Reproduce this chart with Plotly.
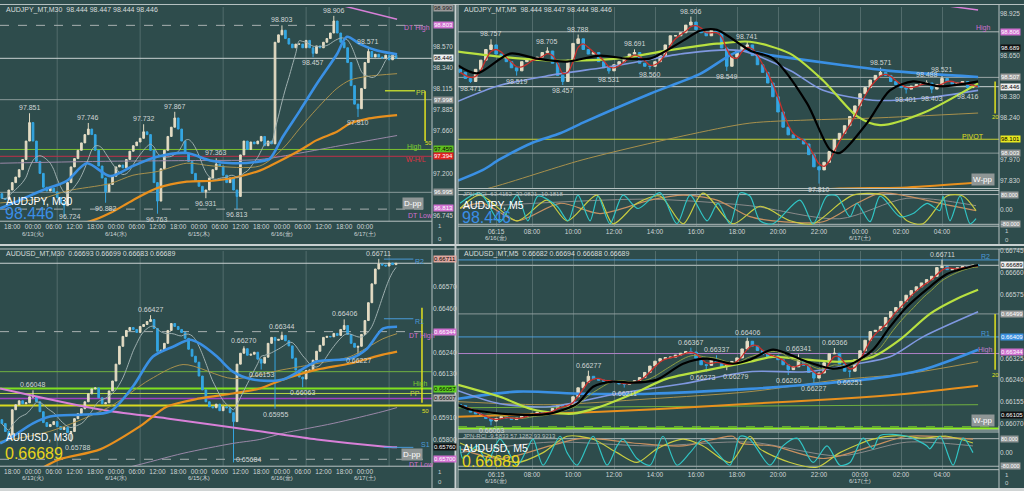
import plotly.graph_objects as go
import pandas as pd

W, H = 1024, 491
BG = '#2e4c4c'
UP = '#e4dcc4'
DN = '#34a6e2'
TXT = '#d0d6d6'
FONT = 'Liberation Sans, Arial, sans-serif'

# ======================= DATA =======================
# ---- AUDJPY M30 (x = hours from 6/13 00:00, hourly bars) ----
jpy30_t0 = -9
jpy30_open0 = 96.98
jpy30_close = [96.93, 96.92, 97.02, 97.10, 97.16, 97.24, 97.35, 97.55, 97.75,
               97.55, 97.33, 97.20, 97.05, 97.01, 97.04, 97.00, 96.94, 96.88, 96.85,
               97.10, 97.27, 97.36, 97.45, 97.53, 97.62, 97.68, 97.62, 97.45, 97.28,
               97.15, 97.00, 97.08, 97.17, 97.27, 97.29, 97.26, 97.35, 97.44, 97.50,
               97.54, 97.58, 97.65, 97.62, 97.45, 97.10, 96.90, 97.25, 97.45, 97.60,
               97.70, 97.80, 97.68, 97.55, 97.42, 97.33, 97.20, 97.12, 97.06, 97.00,
               97.02, 97.15, 97.24, 97.30, 97.28, 97.18, 97.10, 97.15, 97.02, 96.95,
               97.40, 97.55, 97.46, 97.54, 97.52, 97.55, 97.60, 97.50, 97.55, 97.52,
               98.62, 98.70, 98.75, 98.66, 98.60, 98.56, 98.60, 98.60, 98.56, 98.64,
               98.56, 98.50, 98.58, 98.56, 98.62, 98.66, 98.72, 98.85, 98.72, 98.62,
               98.56, 98.40, 98.15, 97.95, 97.90, 98.12, 98.40, 98.52, 98.46, 98.49,
               98.46, 98.45, 98.48, 98.43, 98.48, 98.446]
jpy30_high_pts = {-1: 97.851, 16: 97.746, 32: 97.732, 41: 97.867, 53: 97.363,
                  72: 98.803, 87: 98.906, 97: 98.571}
jpy30_low_pts = {9: 96.724, 21: 96.882, 36: 96.763, 50: 96.931, 59: 96.813,
                 81: 98.457, 94: 97.810}
jpy30_label_nudge = {9: (6, 6)}
jpy30_blue_t = [-9.5, -3.8, 2.9, 9.8, 15.6, 22.3, 28.9, 35.9, 44.5, 51.2, 57.8, 65.6,
                68.5, 72.3, 77.2, 82.1, 87.9, 90.8, 94.6, 99.5, 105.3]
jpy30_blue_p = [96.82, 96.91, 97.02, 97.12, 97.31, 97.17, 97.28, 97.38, 97.42, 97.34,
                97.31, 97.33, 97.36, 97.60, 97.88, 98.17, 98.49, 98.68, 98.60, 98.53, 98.49]
jpy30_orange_t = [7.0, 16.5, 22.3, 28.9, 35.9, 44.5, 52.1, 57.8, 65.6, 68.5, 77.2,
                  82.1, 87.9, 91.7, 96.6, 105.3]
jpy30_orange_p = [96.61, 96.68, 96.77, 96.91, 97.04, 97.11, 97.12, 97.15, 97.23, 97.28,
                  97.45, 97.56, 97.65, 97.74, 97.79, 97.83]
jpy30_tan_t = [-9.5, 2.9, 9.8, 22.3, 28.9, 35.9, 44.5, 52.1, 65.6, 72.3, 77.2, 82.1,
               87.9, 91.7, 96.6, 105.3]
jpy30_tan_p = [96.88, 96.93, 97.01, 97.09, 97.18, 97.22, 97.31, 97.28, 97.28, 97.47,
               97.69, 97.90, 98.12, 98.21, 98.25, 98.28]
jpy30_purple_t = [-9.5, 19.4, 48.3, 65.6, 77.2, 88.8, 105.3]
jpy30_purple_p = [97.31, 97.33, 97.34, 97.35, 97.42, 97.50, 97.61]
jpy30_magenta_t = [90.2, 105.3]
jpy30_magenta_p = [99.01, 98.87]

# ---- AUDJPY M5 (x = hours from 6/16 00:00, 15-min bars) ----
jpy5_t0 = 4.5
jpy5_step = 0.25
jpy5_open0 = 98.56
jpy5_close = [98.54, 98.50, 98.48, 98.56, 98.62, 98.69, 98.72, 98.66, 98.64, 98.61,
              98.57, 98.55, 98.61, 98.62, 98.62, 98.64, 98.67, 98.68, 98.60, 98.52,
              98.48, 98.62, 98.73, 98.76, 98.69, 98.66, 98.67, 98.61, 98.57, 98.55,
              98.59, 98.61, 98.63, 98.66, 98.67, 98.60, 98.58, 98.58, 98.61, 98.65,
              98.72, 98.78, 98.78, 98.80, 98.85, 98.87, 98.82, 98.80, 98.78, 98.82,
              98.80, 98.70, 98.58, 98.64, 98.68, 98.71, 98.72, 98.65, 98.59, 98.54,
              98.47, 98.38, 98.28, 98.18, 98.13, 98.11, 98.10, 98.07, 98.00, 97.92,
              97.90, 97.95, 98.02, 98.10, 98.14, 98.19, 98.25, 98.32, 98.40, 98.44,
              98.49, 98.52, 98.54, 98.52, 98.48, 98.46, 98.44, 98.43, 98.45, 98.46,
              98.47, 98.47, 98.43, 98.46, 98.50, 98.48, 98.46, 98.47, 98.48, 98.44,
              98.45, 98.446]
jpy5_high_pts = {6.0: 98.757, 8.75: 98.705, 10.25: 98.788, 13.0: 98.691, 15.75: 98.906,
                 18.5: 98.741, 25.0: 98.571, 27.25: 98.488, 28.0: 98.521}
jpy5_low_pts = {5.0: 98.471, 7.25: 98.519, 9.5: 98.457, 11.75: 98.531, 13.75: 98.560,
                17.5: 98.549, 22.0: 97.810, 26.25: 98.401, 27.5: 98.403, 29.25: 98.416}
jpy5_blue_h = [4.39, 5.61, 6.44, 8.05, 9.37, 10.49, 13.76, 16.20, 18.15, 19.76, 23.02, 25.46, 29.76]
jpy5_blue_p = [97.83, 97.90, 97.97, 98.08, 98.14, 98.21, 98.40, 98.53, 98.68, 98.65, 98.59, 98.55, 98.51]
jpy5_peri_h = [4.39, 6.44, 8.88, 12.15, 15.37, 18.15, 20.59, 22.20, 24.63, 27.07, 29.76]
jpy5_peri_p = [98.35, 98.455, 98.52, 98.585, 98.663, 98.683, 98.552, 98.422, 98.357, 98.370, 98.422]
jpy5_lime_h = [4.39, 6.44, 8.88, 12.15, 14.59, 17.02, 18.63, 20.59, 22.20, 23.85, 24.98, 27.07, 29.76]
jpy5_lime_p = [98.676, 98.643, 98.617, 98.630, 98.683, 98.728, 98.741, 98.663, 98.487, 98.253,
               98.194, 98.273, 98.468]
jpy5_black_h = [4.39, 5.32, 6.93, 8.24, 9.71, 11.32, 12.63, 13.76, 15.37, 16.20, 17.02, 18.63,
                19.76, 21.41, 22.54, 23.02, 24.34, 25.46, 26.59, 27.90, 29.76]
jpy5_black_p = [98.585, 98.533, 98.663, 98.630, 98.611, 98.650, 98.630, 98.630, 98.748, 98.813,
                98.819, 98.683, 98.630, 98.338, 98.032, 98.012, 98.207, 98.422, 98.481, 98.448, 98.481]
jpy5_tan_h = [4.39, 5.61, 10.49, 15.37, 18.63, 21.41, 24.63, 29.76]
jpy5_tan_p = [97.752, 97.771, 97.967, 98.123, 98.207, 98.227, 98.240, 98.273]
jpy5_orange_h = [21.0, 23.02, 26.29, 29.76]
jpy5_orange_p = [97.76, 97.778, 97.785, 97.817]
jpy5_pink_h = [27.5, 29.76]
jpy5_pink_p = [98.99, 98.949]
jpy_rci_fast_h = [4.49, 5.46, 6.44, 7.27, 7.80, 8.29, 9.22, 9.76, 10.24, 10.83, 11.22, 11.80, 12.44,
                  13.17, 14.24, 15.07, 15.71, 16.54, 17.07, 17.66, 18.15, 18.63, 19.12, 19.76, 21.07,
                  21.71, 22.39, 22.88, 23.51, 23.85, 24.49, 24.98, 25.95, 26.59, 27.27, 27.90, 28.05,
                  28.39, 28.88, 29.37, 29.66]
jpy_rci_fast_v = [33, 88, -66, 77, -61, 72, 17, -61, 77, -61, 72, -77, 77, 5, 90, -77, 77, -61, 33,
                  -77, 88, 72, -61, -77, 50, -77, 72, 72, -39, 33, -66, 72, -39, -22, 33, -6, 72,
                  -61, 72, -77, -50]
jpy_rci_mid_h = [4.49, 5.46, 7.27, 8.73, 9.71, 11.17, 11.95, 13.12, 14.24, 15.37, 16.34, 17.80,
                 19.12, 20.59, 21.71, 23.02, 23.66, 25.12, 26.29, 27.07, 28.24, 29.02, 29.66]
jpy_rci_mid_v = [5, 77, -61, 50, -61, 77, -77, 33, 72, -77, 88, -77, 17, -61, -77, 33, 77, 77,
                 -61, -77, 72, 72, -6]
jpy_rci_slow_h = [4.49, 5.61, 7.27, 9.37, 11.32, 13.76, 15.37, 17.02, 18.63, 19.76, 22.20, 23.85,
                  24.98, 26.29, 27.90, 29.66]
jpy_rci_slow_v = [5, 33, -61, 33, -22, 50, 77, 50, -39, -61, -66, 33, 88, 72, 33, -6]
jpy_rci_gray_h = [4.49, 9.37, 13.76, 18.63, 23.02, 26.29, 29.66]
jpy_rci_gray_v = [10, 40, 55, 20, -50, 60, 20]

# ---- AUDUSD M30 (x = hours from 6/13 00:00, hourly bars) ----
usd30_t0 = -9
usd30_open0 = 0.65900
usd30_close = [0.65880, 0.65840, 0.65820, 0.65950, 0.65975, 0.65995, 0.65980, 0.65985, 0.66015,
               0.66015, 0.65990, 0.65940, 0.65885, 0.65865, 0.65875, 0.65890, 0.65865, 0.65850, 0.65860,
               0.65835, 0.65840, 0.65905, 0.65930, 0.65955, 0.65990, 0.66030, 0.66055, 0.66060, 0.66010,
               0.65980, 0.65985, 0.66045, 0.66095, 0.66180, 0.66270, 0.66320, 0.66350, 0.66365, 0.66355,
               0.66340, 0.66370, 0.66380, 0.66395, 0.66405, 0.66360, 0.66245, 0.66250, 0.66285, 0.66350,
               0.66385, 0.66370, 0.66355, 0.66340, 0.66310, 0.66255, 0.66220, 0.66190, 0.66120, 0.66050,
               0.65990, 0.65965, 0.65960, 0.65978, 0.65945, 0.65965, 0.65960, 0.65935, 0.65890, 0.66180,
               0.66235, 0.66258, 0.66225, 0.66230, 0.66240, 0.66205, 0.66185, 0.66215, 0.66285, 0.66315,
               0.66300, 0.66305, 0.66325, 0.66298, 0.66272, 0.66210, 0.66150, 0.66115, 0.66105, 0.66148,
               0.66150, 0.66200, 0.66245, 0.66275, 0.66315, 0.66320, 0.66318, 0.66335, 0.66325, 0.66355,
               0.66375, 0.66330, 0.66285, 0.66265, 0.66270, 0.66330, 0.66400, 0.66490, 0.66585, 0.66660,
               0.66685, 0.66680, 0.66675, 0.66690, 0.66682, 0.66689]
usd30_high_pts = {0: 0.66048, 34: 0.66427, 61: 0.66270, 72: 0.66344, 90: 0.66406, 100: 0.66711}
usd30_low_pts = {11: 0.65788, 58: 0.65684, 66: 0.66153, 70: 0.65955, 78: 0.66063, 94: 0.66227}
usd30_label_nudge = {58: (15, 8), 11: (6, 0)}
usd30_blue_t = [-9.5, -5.8, 0, 4.9, 14.5, 22.3, 28.9, 34.7, 40.5, 45.4, 48.3, 53.2, 57.8, 63.6,
                72.3, 82.1, 91.7, 96.6, 101.2, 105.3]
usd30_blue_p = [0.65780, 0.65816, 0.65881, 0.65916, 0.65926, 0.65941, 0.66067, 0.66218, 0.66268,
                0.66303, 0.66283, 0.66218, 0.66142, 0.66102, 0.66102, 0.66193, 0.66208, 0.66258,
                0.66359, 0.66369]
usd30_orange_t = [2.0, 7.8, 19.4, 30.9, 38.8, 48.3, 57.8, 65.6, 72.3, 82.1, 91.7, 101.2, 105.3]
usd30_orange_p = [0.65650, 0.65700, 0.65750, 0.65866, 0.65966, 0.66007, 0.66032, 0.66057, 0.66102,
                  0.66152, 0.66183, 0.66228, 0.66243]
usd30_tan_t = [-9.5, 4.9, 22.3, 33.8, 43.4, 57.8, 72.3, 82.1, 91.7, 101.2, 105.3]
usd30_tan_p = [0.65790, 0.65841, 0.65966, 0.66102, 0.66178, 0.66107, 0.66152, 0.66183, 0.66218,
               0.66308, 0.66334]
usd30_purple_t = [19.4, 28.9, 43.4, 57.8, 65.6, 72.3, 86.8, 101.2, 105.3]
usd30_purple_p = [0.65629, 0.65665, 0.65730, 0.65780, 0.65800, 0.65831, 0.65881, 0.65941, 0.65961]
usd30_pink_t = [-9.5, 19.4, 38.8, 65.6, 82.1, 101.2, 105.3]
usd30_pink_p = [0.66057, 0.65951, 0.65906, 0.65841, 0.65800, 0.65765, 0.65760]

# ---- AUDUSD M5 (x = hours from 6/16 00:00, 15-min bars) ----
usd5_t0 = 4.5
usd5_step = 0.25
usd5_open0 = 0.66145
usd5_close = [0.66140, 0.66128, 0.66115, 0.66108, 0.66100, 0.66090, 0.66080, 0.66090, 0.66098, 0.66092,
              0.66086, 0.66092, 0.66099, 0.66104, 0.66110, 0.66114, 0.66108, 0.66117, 0.66129, 0.66140,
              0.66138, 0.66145, 0.66175, 0.66210, 0.66232, 0.66255, 0.66245, 0.66240, 0.66236, 0.66237,
              0.66231, 0.66225, 0.66224, 0.66231, 0.66238, 0.66250, 0.66270, 0.66295, 0.66314, 0.66324,
              0.66328, 0.66330, 0.66338, 0.66345, 0.66352, 0.66350, 0.66326, 0.66300, 0.66298, 0.66320,
              0.66310, 0.66293, 0.66300, 0.66313, 0.66327, 0.66362, 0.66392, 0.66373, 0.66356, 0.66341,
              0.66330, 0.66335, 0.66320, 0.66300, 0.66281, 0.66292, 0.66318, 0.66298, 0.66270, 0.66248,
              0.66268, 0.66308, 0.66343, 0.66345, 0.66303, 0.66275, 0.66275, 0.66320, 0.66355, 0.66396,
              0.66430, 0.66435, 0.66450, 0.66485, 0.66508, 0.66524, 0.66548, 0.66572, 0.66590, 0.66605,
              0.66620, 0.66633, 0.66646, 0.66680, 0.66684, 0.66672, 0.66674, 0.66679, 0.66684, 0.66682,
              0.66690, 0.66689]
usd5_high_pts = {10.75: 0.66277, 15.75: 0.66367, 17.0: 0.66337, 18.5: 0.66406, 21.0: 0.66341,
                 22.75: 0.66366, 28.0: 0.66711}
usd5_low_pts = {6.0: 0.66063, 12.5: 0.66211, 16.5: 0.66273, 17.5: 0.66279, 20.5: 0.66260,
                21.75: 0.66227, 23.5: 0.66251}
usd5_label_nudge = {16.5: (-4, 0), 17.5: (9, -1)}
usd5_black_h = [4.39, 4.98, 7.27, 8.88, 10.20, 10.98, 11.95, 12.93, 14.10, 15.37, 16.54, 17.80,
                18.63, 19.76, 21.41, 22.68, 23.51, 24.63, 25.46, 26.29, 27.41, 28.24, 29.76]
usd5_black_p = [0.66144, 0.66125, 0.66105, 0.66109, 0.66148, 0.66214, 0.66234, 0.66230, 0.66242,
                0.66304, 0.66324, 0.66304, 0.66320, 0.66359, 0.66312, 0.66285, 0.66300, 0.66359,
                0.66448, 0.66527, 0.66605, 0.66655, 0.66690]
usd5_lime_h = [4.39, 6.44, 8.05, 10.0, 11.32, 12.93, 14.59, 16.68, 18.63, 19.76, 21.41, 23.02,
               24.63, 25.95, 27.41, 28.73, 29.76]
usd5_lime_p = [0.66222, 0.66175, 0.66125, 0.66109, 0.66136, 0.66187, 0.66246, 0.66281, 0.66312,
               0.66331, 0.66320, 0.66312, 0.66331, 0.66398, 0.66499, 0.66558, 0.66593]
usd5_peri_h = [4.39, 6.44, 8.88, 12.15, 15.37, 18.63, 21.41, 23.85, 25.46, 27.07, 29.76]
usd5_peri_p = [0.66199, 0.66148, 0.66136, 0.66187, 0.66226, 0.66273, 0.66273, 0.66304, 0.66331,
               0.66409, 0.66507]
usd5_blue_h = [4.39, 7.27, 10.49, 13.76, 18.63, 21.41, 24.63, 27.07, 29.76]
usd5_blue_p = [0.66167, 0.66195, 0.66187, 0.66187, 0.66206, 0.66222, 0.66246, 0.66281, 0.66359]
usd5_tan_h = [4.39, 8.88, 13.76, 18.63, 23.02, 26.29, 29.76]
usd5_tan_p = [0.66156, 0.66144, 0.66167, 0.66195, 0.66242, 0.66265, 0.66312]
usd5_orange_h = [4.39, 8.88, 13.76, 18.63, 23.02, 26.29, 29.76]
usd5_orange_p = [0.66097, 0.66109, 0.66125, 0.66148, 0.66167, 0.66187, 0.66218]
usd5_green_h = [4.39, 29.76]
usd5_green_p = [0.66132, 0.66144]
usd_rci_fast_h = [4.49, 4.63, 5.32, 5.80, 6.44, 7.27, 7.76, 8.05, 8.54, 9.37, 9.71, 10.20, 10.98,
                  11.66, 12.15, 12.44, 13.12, 13.76, 14.39, 15.07, 15.71, 16.34, 17.02, 17.66, 18.15,
                  18.63, 19.61, 20.24, 20.93, 21.71, 22.39, 23.02, 23.51, 24.15, 24.63, 24.98, 26.29,
                  27.27, 27.41, 27.90, 28.54, 29.02, 29.51]
usd_rci_fast_v = [38, -35, 38, -58, 77, -74, 21, 77, -74, 94, -1, -74, 94, -74, 38, 77, -35, -74,
                  94, -74, -1, 77, -1, -74, 94, 77, -74, 38, 83, -58, 38, -74, -58, 83, 21, 98, 94,
                  38, 21, 94, -74, 83, -1]
usd_rci_mid_h = [4.49, 5.61, 7.27, 8.54, 9.71, 10.98, 12.15, 13.12, 14.10, 15.37, 16.34, 17.66,
                 18.63, 19.12, 20.59, 21.90, 23.02, 24.63, 25.80, 27.07, 28.24, 29.51]
usd_rci_mid_v = [55, -1, -58, -1, 94, 77, -1, -58, 21, 77, 38, -58, 94, 21, -58, -86, -1, 77, 98,
                 83, 94, 55]
usd_rci_slow_h = [4.49, 6.44, 8.88, 10.49, 12.93, 15.37, 17.80, 18.15, 19.76, 22.20, 24.63, 26.29, 29.51]
usd_rci_slow_v = [21, -35, 38, 83, 55, 38, 94, 55, 38, -35, 38, 94, 77]
usd_rci_gray_h = [4.49, 8.88, 13.76, 18.63, 23.02, 26.29, 29.51]
usd_rci_gray_v = [-1, 60, 38, 60, -20, 60, 38]

# ---- time ticks ----
m30_tick_t = [-6, 0, 6, 12, 18, 24, 30, 36, 42, 48, 54, 60, 66, 72, 78, 84, 90, 96]
m30_tick_txt = ['18:00', '00:00', '06:00', '12:00', '18:00', '00:00', '06:00', '12:00', '18:00',
                '00:00', '06:00', '12:00', '18:00', '00:00', '06:00', '12:00', '18:00', '00:00']
m30_date_t = [0, 24, 48, 72, 96]
m30_date_txt = ['6/13(火)', '6/14(水)', '6/15(木)', '6/16(金)', '6/17(土)']
m30_grid_t = [7, 31, 55, 79, 103]
m5_tick_h = [6.25, 8, 10, 12, 14, 16, 18, 20, 22, 24, 26, 28]
m5_tick_txt = ['06:15', '08:00', '10:00', '12:00', '14:00', '16:00', '18:00',
               '20:00', '22:00', '00:00', '02:00', '04:00']
m5_date_h = [6.25, 24]
m5_date_txt = ['6/16(金)', '6/17(土)']

# ---- price axis ticks ----
jpy30_ticks = [98.570, 98.340, 98.115, 97.885, 97.660, 97.200, 96.745]
jpy5_ticks = [98.925, 98.650, 98.380, 98.240, 97.970, 97.830]
usd30_ticks = [0.66570, 0.66460, 0.66240, 0.66130, 0.65910, 0.65800]
usd5_ticks = [0.66745, 0.66660, 0.66575, 0.66325, 0.66240, 0.66155, 0.66070]


# ======================= HELPERS =======================
def fx(px):
    return px / W


def fy(py):
    return 1 - py / H


def make_ohlc(open0, closes, times, hi_pts, lo_pts):
    opens = [open0] + closes[:-1]
    highs = [max(o, c) for o, c in zip(opens, closes)]
    lows = [min(o, c) for o, c in zip(opens, closes)]
    for t, v in hi_pts.items():
        highs[times.index(t)] = v
    for t, v in lo_pts.items():
        lows[times.index(t)] = v
    return opens, highs, lows


fig = go.Figure()
annotations = []
shapes = []


def add_candles(xa, ya, times, open0, closes, hi_pts, lo_pts, fmt, nudge=None):
    nudge = nudge or {}
    o, h, l = make_ohlc(open0, closes, times, hi_pts, lo_pts)
    fig.add_trace(go.Candlestick(
        x=times, open=o, high=h, low=l, close=closes, xaxis=xa, yaxis=ya,
        increasing=dict(line=dict(color=UP, width=1), fillcolor=UP),
        decreasing=dict(line=dict(color=DN, width=1), fillcolor=DN),
        whiskerwidth=0, showlegend=False, hoverinfo='skip'))
    for t, v in hi_pts.items():
        xs, ys = nudge.get(t, (0, 0))
        annotations.append(dict(x=t, y=v, xref=xa, yref=ya, text=fmt.format(v), showarrow=False,
                                yanchor='bottom', xshift=xs, yshift=ys,
                                font=dict(size=7, color=TXT, family=FONT)))
    for t, v in lo_pts.items():
        xs, ys = nudge.get(t, (0, 0))
        annotations.append(dict(x=t, y=v, xref=xa, yref=ya, text=fmt.format(v), showarrow=False,
                                yanchor='top', xshift=xs, yshift=ys,
                                font=dict(size=7, color=TXT, family=FONT)))


def add_line(xa, ya, xs, ys, color, width, shape='spline'):
    fig.add_trace(go.Scatter(x=xs, y=ys, xaxis=xa, yaxis=ya, mode='lines',
                             line=dict(color=color, width=width, shape=shape, smoothing=0.8),
                             showlegend=False, hoverinfo='skip'))


def hline(xa, ya, v, color, width=1, dash='solid', x0=None, x1=None):
    if x0 is None:
        shapes.append(dict(type='line', xref=xa + ' domain', yref=ya, x0=0, x1=1, y0=v, y1=v,
                           line=dict(color=color, width=width, dash=dash), layer='below'))
    else:
        shapes.append(dict(type='line', xref=xa, yref=ya, x0=x0, x1=x1, y0=v, y1=v,
                           line=dict(color=color, width=width, dash=dash), layer='above'))


def vseg(xa, ya, x, v0, v1, color, width=1.5):
    shapes.append(dict(type='line', xref=xa, yref=ya, x0=x, x1=x, y0=v0, y1=v1,
                       line=dict(color=color, width=width), layer='above'))


def label(xa, ya, x, y, text, color, size=7, bg=None, xanchor='center'):
    d = dict(x=x, y=y, xref=xa, yref=ya, text=text, showarrow=False, xanchor=xanchor,
             font=dict(size=size, color=color, family=FONT))
    if bg:
        d.update(bgcolor=bg, borderpad=1)
    annotations.append(d)


def axis_box(px, ya, v, text, bg, fg, size=6):
    annotations.append(dict(x=fx(px), y=v, xref='paper', yref=ya, text=text, showarrow=False,
                            xanchor='left', bgcolor=bg, borderpad=0,
                            font=dict(size=size, color=fg, family=FONT)))


def ptext(px, py, text, color, size=7, xanchor='left'):
    annotations.append(dict(x=fx(px), y=fy(py), xref='paper', yref='paper', text=text,
                            showarrow=False, xanchor=xanchor, yanchor='middle',
                            font=dict(size=size, color=color, family=FONT)))


def dates(xa, xs, txts, py):
    for x, t in zip(xs, txts):
        annotations.append(dict(x=x, y=fy(py), xref=xa, yref='paper', text=t, showarrow=False,
                                yanchor='middle', font=dict(size=6, color=TXT, family=FONT)))


def rolling(vals, n):
    return pd.Series(vals).rolling(n, min_periods=1).mean().tolist()


# ======================= PANEL 1: AUDJPY M30 =======================
t1 = [jpy30_t0 + i for i in range(len(jpy30_close))]
for gt in m30_grid_t:
    shapes.append(dict(type='line', xref='x', yref='y domain', x0=gt, x1=gt, y0=0, y1=1,
                       line=dict(color='rgba(150,170,170,0.35)', width=1), layer='below'))
hline('x', 'y', 98.803, '#a8b0b0', 1, 'dash')
hline('x', 'y', 98.446, '#c8d0d0', 1)
hline('x', 'y', 97.998, '#8a9a9a', 1)
hline('x', 'y', 97.459, '#7cc030', 1)
hline('x', 'y', 97.385, '#c03048', 1)
hline('x', 'y', 96.995, '#8a9a9a', 1)
hline('x', 'y', 96.813, '#a8b0b0', 1, 'dash')
add_line('x', 'y', jpy30_purple_t, jpy30_purple_p, '#9a88a8', 1)
add_line('x', 'y', jpy30_orange_t, jpy30_orange_p, '#e8901e', 2.2)
add_line('x', 'y', jpy30_tan_t, jpy30_tan_p, '#a8904c', 1)
add_candles('x', 'y', t1, jpy30_open0, jpy30_close, jpy30_high_pts, jpy30_low_pts, '{:.3f}',
            jpy30_label_nudge)
add_line('x', 'y', t1, rolling(jpy30_close, 8), '#9fb0b0', 1)
add_line('x', 'y', jpy30_blue_t, jpy30_blue_p, '#3a90e4', 2.6)
add_line('x', 'y', jpy30_magenta_t, jpy30_magenta_p, '#d880d8', 1.5)
hline('x', 'y', 98.095, '#b8d030', 1.5, x0=101.8, x1=110.5)
vseg('x', 'y', 113.4, 98.09, 97.55, '#e0e020')
label('x', 'y', 114.3, 97.53, '50', '#e0e020', size=6)
label('x', 'y', 111.2, 98.77, 'DT High', '#d070d0')
label('x', 'y', 112.2, 98.08, 'PP', '#c8d840')
label('x', 'y', 110.2, 97.485, 'High', '#7cd030')
label('x', 'y', 110.8, 97.345, 'W-H/L', '#e03040')
label('x', 'y', 112.2, 96.74, 'DT Low', '#d070d0')
label('x', 'y', 109.8, 96.87, 'D-pp', '#ffffff', size=8, bg='#8f9696')
dates('x', m30_date_t, m30_date_txt, 232)

# ======================= PANEL 2: AUDJPY M5 =======================
t2 = [jpy5_t0 + jpy5_step * i for i in range(len(jpy5_close))]
hline('x2', 'y2', 98.806, '#b0b8b8', 1)
hline('x2', 'y2', 98.507, '#9aa5a5', 1)
hline('x2', 'y2', 98.446, '#c8d0d0', 1)
hline('x2', 'y2', 98.101, '#c8d030', 1)
hline('x2', 'y2', 98.010, '#8a9a9a', 1)
add_line('x2', 'y2', jpy5_tan_h, jpy5_tan_p, '#a8904c', 1)
add_line('x2', 'y2', jpy5_orange_h, jpy5_orange_p, '#e8901e', 2)
add_line('x2', 'y2', jpy5_pink_h, jpy5_pink_p, '#d880d8', 1.5)
add_line('x2', 'y2', jpy5_blue_h, jpy5_blue_p, '#3a90e4', 2.6)
add_line('x2', 'y2', jpy5_peri_h, jpy5_peri_p, '#7f98e0', 1.6)
add_candles('x2', 'y2', t2, jpy5_open0, jpy5_close, jpy5_high_pts, jpy5_low_pts, '{:.3f}')
add_line('x2', 'y2', jpy5_lime_h, jpy5_lime_p, '#b8e040', 2.2)
add_line('x2', 'y2', t2, rolling(jpy5_close, 3), '#c8302c', 1.3)
add_line('x2', 'y2', jpy5_black_h, jpy5_black_p, '#000000', 2.2)
label('x2', 'y2', 30.0, 98.83, 'High', '#d070d0')
label('x2', 'y2', 29.5, 98.122, 'PIVOT', '#e0e020')
vseg('x2', 'y2', 30.59, 98.48, 98.27, '#e0e020')
label('x2', 'y2', 30.59, 98.245, '20', '#e0e020', size=6)
label('x2', 'y2', 30.0, 97.838, 'W-pp', '#ffffff', size=8, bg='#8f9696')
# oscillator
hline('x3', 'y3', 80, '#b0b8b8', 1)
hline('x3', 'y3', -80, '#b0b8b8', 1)
add_line('x3', 'y3', jpy_rci_gray_h, jpy_rci_gray_v, '#8a8a8a', 1)
add_line('x3', 'y3', jpy_rci_slow_h, jpy_rci_slow_v, '#c89060', 1.2)
add_line('x3', 'y3', jpy_rci_mid_h, jpy_rci_mid_v, '#c8cc40', 1.2)
add_line('x3', 'y3', jpy_rci_fast_h, jpy_rci_fast_v, '#30c4c4', 1.2)
dates('x3', m5_date_h, m5_date_txt, 236)

# ======================= PANEL 3: AUDUSD M30 =======================
t3 = [usd30_t0 + i for i in range(len(usd30_close))]
for gt in m30_grid_t:
    shapes.append(dict(type='line', xref='x4', yref='y4 domain', x0=gt, x1=gt, y0=0, y1=1,
                       line=dict(color='rgba(150,170,170,0.35)', width=1), layer='below'))
hline('x4', 'y4', 0.66689, '#c8d0d0', 1)
hline('x4', 'y4', 0.66344, '#a8b0b0', 1, 'dash')
hline('x4', 'y4', 0.66142, '#70b040', 1)
hline('x4', 'y4', 0.66057, '#80e020', 2)
hline('x4', 'y4', 0.66032, '#b8d840', 1)
hline('x4', 'y4', 0.66007, '#a040c0', 1.5)
hline('x4', 'y4', 0.65971, '#d8d820', 2)
hline('x4', 'y4', 0.65700, '#a8b0b0', 1, 'dash')
add_line('x4', 'y4', usd30_purple_t, usd30_purple_p, '#9a88a8', 1)
add_line('x4', 'y4', usd30_pink_t, usd30_pink_p, '#d880d8', 2)
add_line('x4', 'y4', usd30_orange_t, usd30_orange_p, '#e8901e', 2.2)
add_line('x4', 'y4', usd30_tan_t, usd30_tan_p, '#a8904c', 1)
add_candles('x4', 'y4', t3, usd30_open0, usd30_close, usd30_high_pts, usd30_low_pts, '{:.5f}',
            usd30_label_nudge)
add_line('x4', 'y4', t3, rolling(usd30_close, 8), '#9fb0b0', 1)
add_line('x4', 'y4', usd30_blue_t, usd30_blue_p, '#3a90e4', 2.6)
hline('x4', 'y4', 0.66710, '#4a9ad8', 1, x0=101.5, x1=110)
hline('x4', 'y4', 0.66409, '#4a9ad8', 1, x0=101.5, x1=110)
hline('x4', 'y4', 0.65760, '#4a9ad8', 1, x0=101.5, x1=110)
label('x4', 'y4', 111.8, 0.66700, 'R2', '#4a9ad8')
label('x4', 'y4', 111.8, 0.66395, 'R1', '#4a9ad8')
label('x4', 'y4', 112.5, 0.66322, 'DT High', '#d070d0')
label('x4', 'y4', 112.0, 0.66080, 'High', '#7cd030')
label('x4', 'y4', 110.6, 0.66030, 'PP', '#c8d840')
label('x4', 'y4', 113.5, 0.65775, 'S1', '#4a9ad8')
label('x4', 'y4', 112.5, 0.65672, 'DT Low', '#d070d0')
label('x4', 'y4', 109.6, 0.65722, 'D-pp', '#ffffff', size=8, bg='#8f9696')
vseg('x4', 'y4', 112.5, 0.66464, 0.65985, '#e0e020')
label('x4', 'y4', 113.6, 0.65945, '50', '#e0e020', size=6)
dates('x4', m30_date_t, m30_date_txt, 478)

# ======================= PANEL 4: AUDUSD M5 =======================
t4 = [usd5_t0 + usd5_step * i for i in range(len(usd5_close))]
hline('x5', 'y5', 0.66710, '#4a9ad8', 1)
hline('x5', 'y5', 0.66689, '#c0c8c8', 1)
hline('x5', 'y5', 0.66499, '#8a9a9a', 1)
hline('x5', 'y5', 0.66409, '#4a9ad8', 1)
hline('x5', 'y5', 0.66344, '#b080c8', 1)
hline('x5', 'y5', 0.66058, '#70c030', 1, 'dash')
hline('x5', 'y5', 0.66049, '#90f020', 3)
add_line('x5', 'y5', usd5_green_h, usd5_green_p, '#70b040', 1)
add_line('x5', 'y5', usd5_orange_h, usd5_orange_p, '#e8901e', 2)
add_line('x5', 'y5', usd5_tan_h, usd5_tan_p, '#a8904c', 1)
add_line('x5', 'y5', usd5_blue_h, usd5_blue_p, '#3a90e4', 2.6)
add_line('x5', 'y5', usd5_peri_h, usd5_peri_p, '#7f98e0', 1.6)
add_candles('x5', 'y5', t4, usd5_open0, usd5_close, usd5_high_pts, usd5_low_pts, '{:.5f}',
            usd5_label_nudge)
add_line('x5', 'y5', usd5_lime_h, usd5_lime_p, '#b8e040', 2.2)
add_line('x5', 'y5', t4, rolling(usd5_close, 8), '#8ea040', 1)
add_line('x5', 'y5', t4, rolling(usd5_close, 3), '#c8302c', 1.3)
add_line('x5', 'y5', usd5_black_h, usd5_black_p, '#000000', 2.2)
label('x5', 'y5', 30.1, 0.66722, 'R2', '#4a9ad8')
label('x5', 'y5', 30.1, 0.66422, 'R1', '#4a9ad8')
label('x5', 'y5', 30.1, 0.66357, 'High', '#c080d0')
vseg('x5', 'y5', 30.59, 0.66499, 0.66281, '#e0e020')
label('x5', 'y5', 30.59, 0.66262, '20', '#e0e020', size=6)
label('x5', 'y5', 30.0, 0.66082, 'W-pp', '#ffffff', size=8, bg='#8f9696')
# oscillator
hline('x6', 'y6', 80, '#b0b8b8', 1)
hline('x6', 'y6', -80, '#b0b8b8', 1)
add_line('x6', 'y6', usd_rci_gray_h, usd_rci_gray_v, '#8a8a8a', 1)
add_line('x6', 'y6', usd_rci_slow_h, usd_rci_slow_v, '#c89060', 1.2)
add_line('x6', 'y6', usd_rci_mid_h, usd_rci_mid_v, '#c8cc40', 1.2)
add_line('x6', 'y6', usd_rci_fast_h, usd_rci_fast_v, '#30c4c4', 1.2)
dates('x6', m5_date_h, m5_date_txt, 481)

# ======================= AXIS BOXES & TEXTS =======================
for v, t, bg, fg in [(98.99, '98.990', '#9a9a9a', '#202020'), (98.803, '98.803', '#d070d0', '#ffffff'),
                     (98.446, '98.446', '#f0f0f0', '#000000'), (97.998, '97.998', '#8a9090', '#ffffff'),
                     (97.465, '97.459', '#60c020', '#000000'), (97.385, '97.394', '#e02020', '#ffffff'),
                     (96.995, '96.995', '#8a9090', '#ffffff'), (96.823, '96.813', '#d070d0', '#ffffff')]:
    axis_box(433, 'y', v, t, bg, fg)
for v, t, bg, fg in [(98.806, '98.806', '#d070d0', '#ffffff'), (98.702, '98.689', '#101010', '#ffffff'),
                     (98.510, '98.507', '#9a9a9a', '#ffffff'), (98.443, '98.446', '#f0f0f0', '#000000'),
                     (98.101, '98.101', '#e8e820', '#000000'), (98.012, '98.003', '#8a9090', '#ffffff')]:
    axis_box(1000, 'y2', v, t, bg, fg)
for v, t in [(80, '80.000'), (-80, '-80.000')]:
    axis_box(1000, 'y3', v, t, '#8f9696', '#ffffff', size=5.5)
    axis_box(1000, 'y6', v, t, '#8f9696', '#ffffff', size=5.5)
for v, t, bg, fg in [(0.66711, '0.66711', '#e0a8a0', '#000000'), (0.66344, '0.66344', '#d070d0', '#ffffff'),
                     (0.66057, '0.66057', '#60d020', '#000000'), (0.66007, '0.66007', '#b0b0b0', '#000000'),
                     (0.65760, '0.65760', '#101010', '#ffffff'), (0.65700, '0.65700', '#d070d0', '#ffffff')]:
    axis_box(433, 'y4', v, t, bg, fg)
for v, t, bg, fg in [(0.66689, '0.66689', '#f0f0f0', '#000000'), (0.66499, '0.66499', '#9a9a9a', '#ffffff'),
                     (0.66409, '0.66409', '#3a90e0', '#ffffff'), (0.66349, '0.66344', '#d070d0', '#ffffff'),
                     (0.66105, '0.66105', '#101010', '#ffffff'), (0.66046, '0.66055', '#70e020', '#000000')]:
    axis_box(1000, 'y5', v, t, bg, fg)

ptext(4, 6, 'AUDJPY_MT,M30  98.444 98.447 98.444 98.446', '#d8dcdc', 7)
ptext(462, 6, 'AUDJPY_MT,M5  98.444 98.447 98.444 98.446', '#d8dcdc', 7)
ptext(4, 252, 'AUDUSD_MT,M30  0.66693 0.66699 0.66683 0.66689', '#d8dcdc', 7)
ptext(462, 252, 'AUDUSD_MT,M5  0.66682 0.66694 0.66688 0.66689', '#d8dcdc', 7)
ptext(461, 192, 'JPN-RCI -63.4152 -33.0821 -10.1818', '#b8c0c0', 6)
ptext(461, 436, 'JPN-RCI -9.5833 57.1282 93.9213', '#b8c0c0', 6)
ptext(4, 199, 'AUDJPY, M30', '#ffffff', 10.5)
ptext(3, 211, '98.446', '#3a8ee6', 16)
ptext(461, 203, 'AUDJPY, M5', '#ffffff', 10.5)
ptext(460, 215, '98.446', '#3a8ee6', 16)
ptext(4, 437, 'AUDUSD, M30', '#ffffff', 10)
ptext(3, 453, '0.66689', '#e8d41c', 16)
ptext(461, 448, 'AUDUSD, M5', '#ffffff', 10.5)
ptext(460, 461, '0.66689', '#e8d41c', 16)
for px, py1, py0 in [(436, 224, 237), (1003, 229, 238), (436, 472, 482), (1003, 475, 483)]:
    ptext(px, py1, '1', '#c8d0d0', 6)
    ptext(px, py0, '0', '#c8d0d0', 6)

# ======================= FRAMES =======================
FR = '#b8c2c2'


def pline(x0, y0, x1, y1, color=FR, width=1):
    shapes.append(dict(type='line', xref='paper', yref='paper', x0=fx(x0), x1=fx(x1),
                       y0=fy(y0), y1=fy(y1), line=dict(color=color, width=width), layer='above'))


pline(0, 0.5, 1024, 0.5)
pline(432, 0, 432, 242)
pline(0, 219, 432, 219)
pline(455.5, 0, 455.5, 491, '#c8d0d0', 2)
pline(458, 0, 458, 242)
pline(999, 0, 999, 242)
pline(458, 186, 999, 186)
pline(458, 188, 999, 188)
pline(458, 224, 999, 224)
pline(0, 243, 1024, 243, '#c8d0d0', 2)
pline(0, 247, 1024, 247)
pline(432, 247, 432, 488)
pline(0, 466, 432, 466)
pline(458, 247, 458, 488)
pline(999, 247, 999, 488)
pline(458, 429.5, 999, 429.5)
pline(458, 431.5, 999, 431.5)
pline(458, 469.5, 999, 469.5)
shapes.append(dict(type='rect', xref='paper', yref='paper', x0=0, x1=1, y0=0, y1=fy(488),
                   fillcolor='#d0d4d4', line=dict(width=0), layer='above'))

# ======================= LAYOUT =======================
tf = dict(size=6.5, color=TXT, family=FONT)


def xax(dom, rng, anchor, vals, txt, show=True, grid=False):
    return dict(domain=dom, range=rng, anchor=anchor, tickvals=vals, ticktext=txt,
                showticklabels=show, showgrid=grid, gridcolor='rgba(150,170,170,0.35)',
                zeroline=False, showline=False, ticks='', tickfont=tf, tickangle=0,
                rangeslider=dict(visible=False), fixedrange=True)


def yax(dom, rng, anchor, vals, fmt):
    return dict(domain=dom, range=rng, anchor=anchor, side='right', tickvals=vals,
                ticktext=[fmt.format(v) for v in vals], showgrid=False, zeroline=False,
                showline=False, ticks='', tickfont=tf, fixedrange=True)


m30_rng = [-9.54, 115.4]
m5_rng = [4.39, 30.78]
fig.update_layout(
    width=W, height=H, margin=dict(l=0, r=0, t=0, b=0),
    paper_bgcolor=BG, plot_bgcolor=BG, showlegend=False, hovermode=False,
    font=dict(family=FONT, color=TXT),
    xaxis=xax([0, fx(432)], m30_rng, 'y', m30_tick_t, m30_tick_txt),
    yaxis=yax([fy(219), fy(3)], [96.682, 99.002], 'x', jpy30_ticks, '{:.3f}'),
    xaxis2=xax([fx(458), fx(999)], m5_rng, 'y2', m5_tick_h, m5_tick_txt, show=False, grid=True),
    yaxis2=yax([fy(186), fy(3)], [97.778, 98.969], 'x2', jpy5_ticks, '{:.3f}'),
    xaxis3=xax([fx(458), fx(999)], m5_rng, 'y3', m5_tick_h, m5_tick_txt, grid=True),
    yaxis3=yax([fy(224), fy(188)], [-90, 102], 'x3', [0], '{:.2f}'),
    xaxis4=xax([0, fx(432)], m30_rng, 'y4', m30_tick_t, m30_tick_txt),
    yaxis4=yax([fy(466), fy(249)], [0.65665, 0.66751], 'x4', usd30_ticks, '{:.5f}'),
    xaxis5=xax([fx(458), fx(999)], m5_rng, 'y5', m5_tick_h, m5_tick_txt, show=False, grid=True),
    yaxis5=yax([fy(429), fy(249)], [0.66047, 0.66745], 'x5', usd5_ticks, '{:.5f}'),
    xaxis6=xax([fx(458), fx(999)], m5_rng, 'y6', m5_tick_h, m5_tick_txt, grid=True),
    yaxis6=yax([fy(469), fy(432)], [-97, 116], 'x6', [0], '{:.2f}'),
    annotations=annotations, shapes=shapes,
)

fig.write_html('out.html')
